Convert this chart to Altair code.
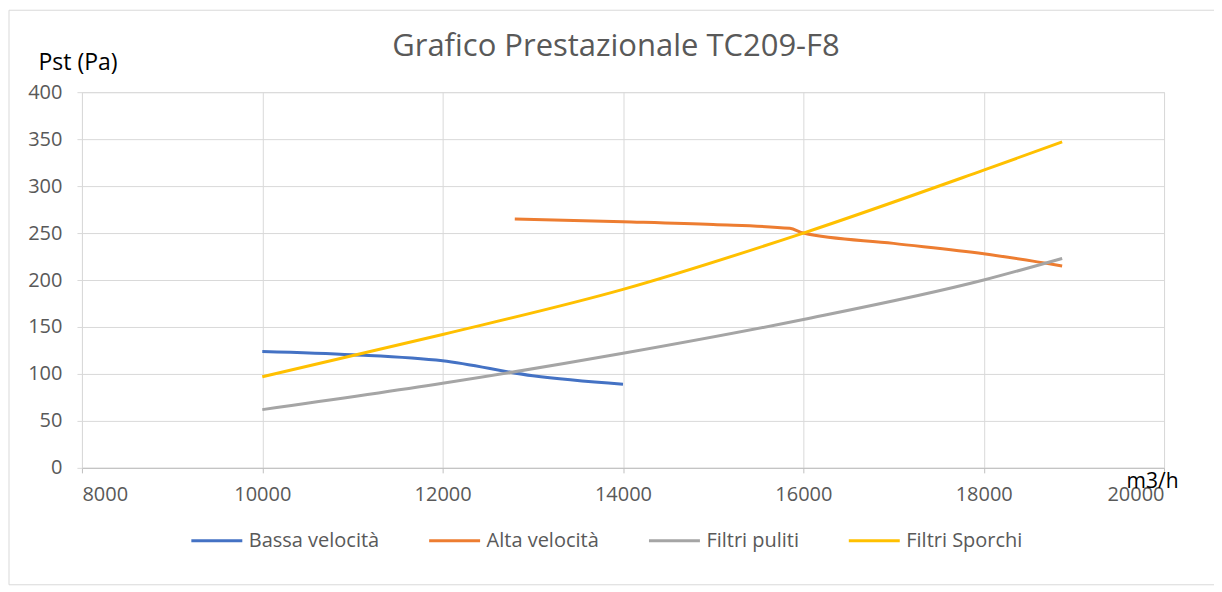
import altair as alt
import pandas as pd

# ---- data ----
series_names = ["Bassa velocità", "Alta velocità", "Filtri puliti", "Filtri Sporchi"]
series_colors = ["#4472C4", "#ED7D31", "#A5A5A5", "#FFC000"]

bassa_x = [10000, 11000, 12000, 13000, 14000]
bassa_y = [124, 120.5, 114, 98, 89]

alta_x = [12800, 14000, 15000, 15850, 16000, 17000, 18000, 18870]
alta_y = [265, 262, 259, 255, 250, 239, 228, 215]

puliti_x = [10000, 12000, 14000, 16000, 18000, 18870]
puliti_y = [62, 90, 122, 158, 200, 223]

sporchi_x = [10000, 12000, 14000, 16000, 18000, 18870]
sporchi_y = [97, 142, 190, 250, 317, 347]

x_ticks = [8000, 10000, 12000, 14000, 16000, 18000, 20000]
y_ticks = [0, 50, 100, 150, 200, 250, 300, 350, 400]

rows = []
for name, xs, ys in zip(series_names,
                        [bassa_x, alta_x, puliti_x, sporchi_x],
                        [bassa_y, alta_y, puliti_y, sporchi_y]):
    for i, (a, b) in enumerate(zip(xs, ys)):
        rows.append({"serie": name, "portata": a, "pst": b, "ord": i})
df = pd.DataFrame(rows)

FONT = "Open Sans"
GRID = "#d9d9d9"
LBL = "#595959"

lines = alt.Chart(df).mark_line(interpolate="monotone", strokeWidth=3).encode(
    x=alt.X("portata:Q",
            scale=alt.Scale(domain=[8000, 20000], nice=False, zero=False),
            axis=alt.Axis(values=x_ticks, title="m3/h", format="d",
                          grid=True, gridColor=GRID, gridWidth=1,
                          domainColor="#bfbfbf", domainWidth=1,
                          tickColor="#bfbfbf", tickSize=5,
                          labelFont=FONT, labelFontSize=20, labelColor=LBL,
                          labelPadding=12,
                          titleFont=FONT, titleFontSize=21, titleFontWeight="normal",
                          titleColor="#000000", titleAngle=0, titleAlign="left",
                          titleBaseline="alphabetic", titleX=1045, titleY=20)),
    y=alt.Y("pst:Q",
            scale=alt.Scale(domain=[0, 400], nice=False),
            axis=alt.Axis(values=y_ticks, title="Pst (Pa)",
                          grid=True, gridColor=GRID, gridWidth=1,
                          domain=False, tickColor=GRID, tickSize=5,
                          labelFont=FONT, labelFontSize=20, labelColor=LBL,
                          labelPadding=15,
                          titleFont=FONT, titleFontSize=23, titleFontWeight="normal",
                          titleColor="#000000", titleAngle=0, titleAlign="left",
                          titleBaseline="alphabetic", titleX=-44, titleY=-23)),
    color=alt.Color("serie:N",
                    scale=alt.Scale(domain=series_names, range=series_colors),
                    sort=series_names,
                    legend=alt.Legend(orient="none", legendX=108, legendY=422,
                                      direction="horizontal", title=None,
                                      symbolType="stroke", symbolSize=2601,
                                      symbolStrokeWidth=3, labelFont=FONT,
                                      labelFontSize=20, labelColor=LBL,
                                      columnPadding=43, labelOffset=5,
                                      padding=0)),
    detail="serie:N",
    order="ord:Q",
)

frame = alt.Chart(pd.DataFrame({"k": [0]})).mark_rect(
    fillOpacity=0, stroke=GRID, strokeWidth=1
).encode(x=alt.value(-73), x2=alt.value(1150), y=alt.value(-82), y2=alt.value(493))

chart = alt.layer(frame, lines).properties(
    width=1083, height=376,
    title=alt.TitleParams("Grafico Prestazionale TC209-F8", font=FONT, fontSize=31,
                          fontWeight="normal", color=LBL, anchor="middle",
                          offset=-53, dx=-7),
    autosize=alt.AutoSizeParams(type="none"),
    padding={"left": 74, "top": 84, "right": 50, "bottom": 118},
).configure_view(stroke=None).configure(background="white")

chart.save("out.html", embed_options={"renderer": "svg", "actions": False})
